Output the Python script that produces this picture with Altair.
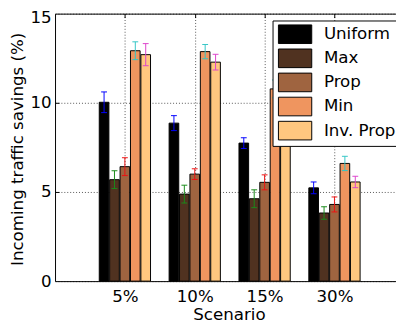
import altair as alt
import pandas as pd

SCENARIOS = ["5%", "10%", "15%", "30%"]
SERIES = ["Uniform", "Max", "Prop", "Min", "Inv. Prop"]
UNIFORM = [10.03, 8.86, 7.74, 5.23]
MAX = [5.69, 4.88, 4.62, 3.82]
PROP = [6.42, 6.00, 5.54, 4.30]
MIN = [12.92, 12.87, 10.78, 6.60]
INV_PROP = [12.70, 12.28, 10.20, 5.56]
ERR_UNIFORM = [0.58, 0.42, 0.30, 0.33]
ERR_MAX = [0.50, 0.50, 0.50, 0.35]
ERR_PROP = [0.50, 0.30, 0.42, 0.42]
ERR_MIN = [0.50, 0.40, 0.50, 0.40]
ERR_INV_PROP = [0.62, 0.44, 0.50, 0.32]
BAR_COLORS = ["#000000", "#503220", "#9f6440", "#ef955f", "#ffc77f"]
ERR_COLORS = ["#0000ff", "#1a8a1a", "#ee1111", "#33c6c6", "#dd44cc"]
Y_TICKS = [0, 5, 10, 15]
X_TICKS = [1, 2, 3, 4]

VALUES = [UNIFORM, MAX, PROP, MIN, INV_PROP]
ERRORS = [ERR_UNIFORM, ERR_MAX, ERR_PROP, ERR_MIN, ERR_INV_PROP]

rows = []
for k, s in enumerate(SERIES):
    for p, sc in enumerate(SCENARIOS):
        rows.append({"scenario": sc, "p": p + 1, "series": s, "k": k,
                     "value": VALUES[k][p], "err": ERRORS[k][p],
                     "ecol": ERR_COLORS[k]})
df = pd.DataFrame(rows)

FONT = "DejaVu Sans"
W, H = 348, 273
xscale = alt.Scale(domain=[0, W / 71.3], nice=False, zero=False)
yscale = alt.Scale(domain=[0, 15], nice=False)

label_expr = "[''," + ",".join("'%s'" % s for s in SCENARIOS) + "][datum.value]"

base = (alt.Chart(df)
        .transform_calculate(xc="datum.p + (datum.k - 2) * 0.149")
        .transform_calculate(x0="datum.xc - 0.069")
        .transform_calculate(x1="datum.xc + 0.069")
        .transform_calculate(c0="datum.xc - 0.042")
        .transform_calculate(c1="datum.xc + 0.042")
        .transform_calculate(lo="datum.value - datum.err")
        .transform_calculate(hi="datum.value + datum.err"))

inward = alt.ExprRef("-4")

yaxis = alt.Axis(orient="left", values=Y_TICKS, title="Incoming traffic savings (%)",
                 titleX=-32.7, titleY=138, titleAngle=270,
                 titleBaseline="alphabetic", titleAlign="center",
                 labelPadding=4, ticks=False, tickSize=0, grid=True,
                 labelFlush=False,
                 labelOffset={"condition": {"test": "datum.value === 15", "value": 4}, "value": 0})

xaxis = alt.Axis(orient="bottom", values=X_TICKS, labelExpr=label_expr, title="Scenario",
                 titleX=177.5, titleY=39.2, titleBaseline="alphabetic",
                 titleAlign="center", labelBaseline="alphabetic",
                 labelPadding=20.5, ticks=False, tickSize=0, grid=True,
                 labelFlush=False)

legend = alt.Legend(orient="none", legendX=222, legendY=7, title=None,
                    fillColor="white", strokeColor="black",
                    padding=4, rowPadding=0.6, labelOffset=19.4, symbolOffset=9,
                    labelFont=FONT, labelFontSize=17, labelColor="black",
                    labelExpr="datum.label + '\u00a0\u00a0'",
                    symbolType="M-1.7895,-1L1.7895,-1L1.7895,1L-1.7895,1Z",
                    symbolSize=361, symbolStrokeColor="black",
                    symbolStrokeWidth=1, symbolOpacity=1, labelLimit=300)

bars = base.mark_bar(stroke="black", strokeWidth=1).encode(
    x=alt.X("x0:Q", scale=xscale, axis=xaxis),
    x2="x1:Q",
    y=alt.Y("value:Q", scale=yscale, axis=yaxis),
    y2=alt.datum(0),
    color=alt.Color("series:N", scale=alt.Scale(domain=SERIES, range=BAR_COLORS),
                    legend=legend),
)

stems = base.mark_rule(strokeWidth=1).encode(
    x=alt.X("xc:Q", scale=xscale,
            axis=alt.Axis(orient="top", values=X_TICKS, labels=False, grid=False,
                          title=None, tickSize=inward)),
    y=alt.Y("lo:Q", scale=yscale, axis=None),
    y2="hi:Q",
    stroke=alt.Stroke("ecol:N", scale=None),
)

cap_hi = base.mark_rule(strokeWidth=1).encode(
    x=alt.X("c0:Q", scale=xscale, axis=None),
    x2="c1:Q",
    y=alt.Y("hi:Q", scale=yscale,
            axis=alt.Axis(orient="left", values=[5, 10], labels=False, grid=False,
                          domain=False, title=None, tickSize=inward)),
    stroke=alt.Stroke("ecol:N", scale=None),
)
cap_lo = base.mark_rule(strokeWidth=1).encode(
    x=alt.X("c0:Q", scale=xscale, axis=None),
    x2="c1:Q",
    y=alt.Y("lo:Q", scale=yscale, axis=None),
    stroke=alt.Stroke("ecol:N", scale=None),
)

chart = (alt.layer(bars, stems, cap_hi, cap_lo)
         .resolve_axis(x="independent", y="independent")
         .properties(width=W, height=H,
                     padding={"left": 48, "top": 2.5, "right": 0, "bottom": 40.5},
                     autosize=alt.AutoSizeParams(type="none"),
                     background="white")
         .configure_view(stroke=None)
         .configure_axis(domainColor="black", tickColor="black", labelColor="black",
                         titleColor="black", labelFont=FONT, titleFont=FONT,
                         labelFontSize=17, titleFontSize=17, titleFontWeight="normal",
                         gridDash=[1, 2], gridColor="#555555", domainWidth=1))

chart.save("out.html", embed_options={"renderer": "svg", "actions": False})
